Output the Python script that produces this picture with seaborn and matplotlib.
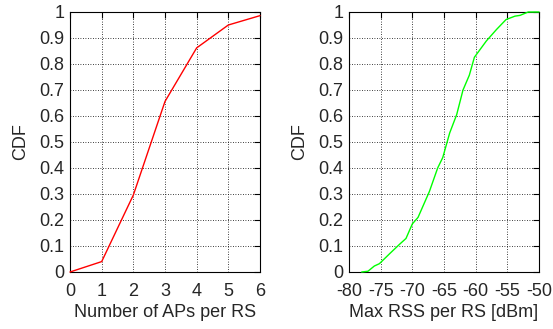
import matplotlib
matplotlib.use("Agg")
import matplotlib.pyplot as plt
import seaborn as sns
import pandas as pd

# data
n_aps = [0, 1, 2, 3, 4, 5, 6]
cdf_aps = [0.0, 0.04, 0.296, 0.656, 0.862, 0.95, 0.986]

rss = [-78.0, -77.0, -76.0, -75.2, -73.6, -72.0, -71.0, -70.0, -69.1, -67.3,
       -66.0, -65.2, -64.1, -63.0, -62.0, -61.0, -60.2, -58.3, -56.7, -55.2,
       -53.8, -53.0, -51.7, -50.0]
cdf_rss = [0.0, 0.003, 0.023, 0.032, 0.07, 0.107, 0.129, 0.185, 0.21, 0.31,
           0.40, 0.44, 0.535, 0.605, 0.70, 0.757, 0.826, 0.889, 0.933, 0.971,
           0.984, 0.987, 1.0, 1.0]

sns.set_style("white")
plt.rcParams['font.family'] = ['Liberation Sans', 'DejaVu Sans']
fs = 13

fig = plt.figure(figsize=(5.53, 3.29), dpi=100)
ax1 = fig.add_axes([70 / 553, 1 - 272 / 329, 190 / 553, 260 / 329])
ax2 = fig.add_axes([349 / 553, 1 - 272 / 329, 190 / 553, 260 / 329])

df1 = pd.DataFrame({"x": n_aps, "y": cdf_aps})
df2 = pd.DataFrame({"x": rss, "y": cdf_rss})
sns.lineplot(data=df1, x="x", y="y", ax=ax1, color="#ff0000", linewidth=1,
             zorder=5, clip_on=False)
sns.lineplot(data=df2, x="x", y="y", ax=ax2, color="#00ff00", linewidth=1,
             zorder=5, clip_on=False)

yt = [i / 10 for i in range(11)]
ylab = ["0"] + ["%.1f" % v for v in yt[1:-1]] + ["1"]

for ax, xt, xl, xlabel in [
    (ax1, n_aps, (0, 6), "Number of APs per RS"),
    (ax2, [-80, -75, -70, -65, -60, -55, -50], (-80, -50), "Max RSS per RS [dBm]"),
]:
    ax.set_xlim(*xl)
    ax.set_ylim(0, 1)
    ax.set_xticks(xt)
    ax.set_xticklabels([str(v) for v in xt])
    ax.set_yticks(yt)
    ax.set_yticklabels(ylab)
    ax.set_xlabel(xlabel, fontsize=fs, labelpad=3)
    ax.set_ylabel("CDF", fontsize=fs, labelpad=7)
    ax.grid(True, color="black", linestyle=(0, (1, 2)), linewidth=0.6)
    ax.tick_params(direction="in", length=4, width=0.8, top=True, right=True,
                   labelsize=fs, color="black")
    ax.tick_params(axis="x", pad=8)
    ax.tick_params(axis="y", pad=4)
    for s in ax.spines.values():
        s.set_color("black")
        s.set_linewidth(0.8)

fig.savefig("out.png", dpi=100)
